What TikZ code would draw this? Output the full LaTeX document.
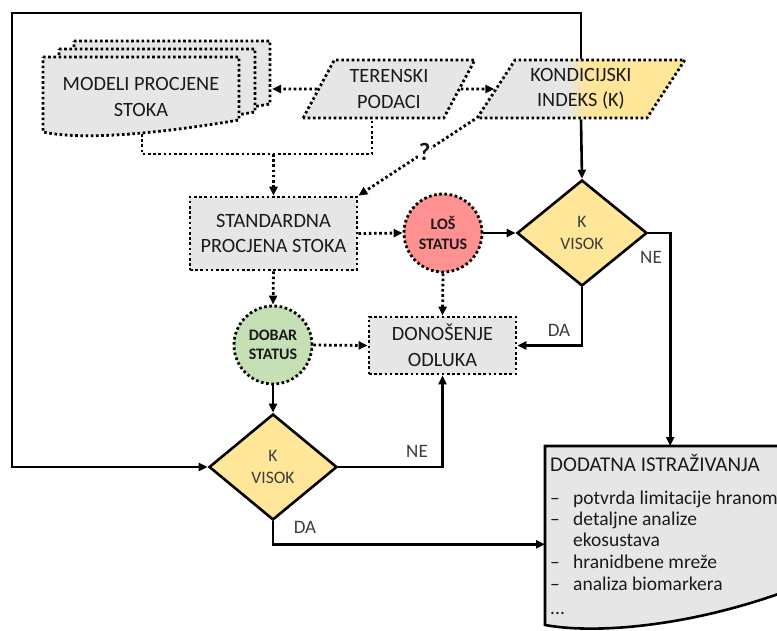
\documentclass[tikz,border=0pt]{standalone}
\usepackage{fontspec}
\setmainfont{Carlito}
\usetikzlibrary{arrows.meta,shapes.geometric,calc}
\definecolor{gfill}{HTML}{E6E6E6}
\definecolor{yfill}{HTML}{FFE699}
\definecolor{rfill}{HTML}{FF9191}
\definecolor{grfill}{HTML}{C5E0B4}
\definecolor{txt}{HTML}{1A1A1A}
\definecolor{dtxt}{HTML}{3C3C3C}
\pgfdeclarehorizontalshading{kshade}{100bp}{color(0bp)=(gfill); color(46.5bp)=(gfill); color(51.5bp)=(yfill); color(100bp)=(yfill)}
\begin{document}
\begin{tikzpicture}[x=1pt,y=-1pt,
  dotpat/.style={line width=2.8pt, dash pattern=on 2.6pt off 2.6pt},
  dotbox/.style={dotpat, draw=black, fill=gfill},
  boxtext/.style={font=\fontsize{20.3}{25.5}\selectfont, text=txt, align=center},
  dtext/.style={font=\fontsize{17.5}{22}\selectfont, text=dtxt, align=center},
  ctext/.style={font=\bfseries\fontsize{16}{19.5}\selectfont, text=txt, align=center},
  lbl/.style={font=\fontsize{19}{22}\selectfont, text=dtxt, inner sep=0pt},
  lst/.style={font=\fontsize{19.5}{22}\selectfont, text=txt, anchor=base west, inner sep=0pt},
  tip/.style={-{Triangle[length=9pt,width=8pt]}},
  solidarrow/.style={line width=2.6pt, tip},
  solidline/.style={line width=2.6pt},
  dotarrow/.style={dotpat, tip},
  dec/.style={diamond, draw=black, line width=2.6pt, fill=yfill, minimum width=130pt, minimum height=106pt, inner sep=0pt, dtext},
  stat/.style={circle, dotpat, draw=black, minimum size=78pt, inner sep=0pt, ctext}
]
\useasboundingbox (0,0) rectangle (777,631);
\clip (0,0) rectangle (777,631);
\fill[white] (0,0) rectangle (777,631);

% multi-document
\foreach \sx/\sy in {31/-16,16/-8,0/0}{
  \filldraw[dotbox, shift={(\sx,\sy)}] (43,57) -- (239,57) -- (239,120) .. controls (150,135) and (80,140) .. (43,132) -- cycle;
}
\node[boxtext, inner sep=0pt] (mod) at (141,97) {MODELI PROCJENE\\STOKA};
\coordinate (modR) at (272,89);
\coordinate (modB) at (142,134);

\node[dotbox, trapezium, trapezium left angle=60, trapezium right angle=120, trapezium stretches=true, minimum width=172pt, minimum height=58pt, inner sep=0pt, boxtext] (ter) at (389,89) {TERENSKI\\PODACI};
\coordinate (terB) at (372,118);

\node[trapezium, trapezium left angle=55, trapezium right angle=125, trapezium stretches=true, minimum width=208pt, minimum height=58pt, inner sep=0pt, draw=black, dotpat, shade, shading=kshade, boxtext] (K) at (581,89) {KONDICIJSKI\\INDEKS (K)};

\node[dotbox, rectangle, minimum width=167pt, minimum height=73pt, inner sep=0pt, boxtext] (std) at (273.5,233.5) {STANDARDNA\\PROCJENA STOKA};
\node[dotbox, rectangle, minimum width=147pt, minimum height=57pt, inner sep=0pt, boxtext] (don) at (442.5,345.5) {DONOŠENJE\\ODLUKA};

\node[stat, fill=rfill] (los) at (443,233) {LOŠ\\STATUS};
\node[stat, fill=grfill] (dob) at (273,345) {DOBAR\\STATUS};

\node[dec] (d1) at (582,233) {K\\VISOK};
\node[dec, minimum width=128pt] (d2) at (273,467) {K\\VISOK};

% document DODATNA
\filldraw[fill=gfill, draw=black, solidline] (545,625) -- (545,446) -- (800,446) -- (800,586) .. controls (700,625) and (600,635) .. (545,625) -- cycle;
\node[minimum width=250pt, minimum height=179pt, inner sep=0pt, anchor=north west] (dod) at (545,446) {};
\node[font=\fontsize{21}{25}\selectfont, text=txt, anchor=base west, inner sep=0pt] (t0) at (550,471) {DODATNA ISTRAŽIVANJA};
\node[lst] (t1) at (550,504) {\makebox[23pt][l]{–}potvrda limitacije hranom};
\node[lst] (t2) at (550,525) {\makebox[23pt][l]{–}detaljne analize};
\node[lst] (t3) at (550,546) {\hspace*{23pt}ekosustava};
\node[lst] (t4) at (550,568) {\makebox[23pt][l]{–}hranidbene mreže};
\node[lst] (t5) at (550,590) {\makebox[23pt][l]{–}analiza biomarkera};
\node[lst] (t6) at (550,614) {...};

% dotted connectors
\draw[dotarrow] (ter.west) -- (modR);
\draw[dotarrow] (ter.east) -- (K.west);
\draw[dotpat] (modB) -- (modB |- 0,154) -- (terB |- 0,154) -- (terB);
\draw[dotarrow] (std.north |- 0,154) -- (std.north);
\draw[dotarrow] (K.bottom left corner) -- node[pos=0.43, fill=white, inner sep=0.5pt, font=\bfseries\fontsize{25}{26}\selectfont, text=txt] (q) {?} (std.north east);
\draw[dotarrow] (std.east) -- (los.west);
\draw[dotarrow] (std.south) -- (dob.north);
\draw[dotarrow] (los.south) -- (don.north);
\draw[dotarrow] (dob.east) -- (don.west);

% solid connectors
\draw[solidarrow] (K.north) -- (K.north |- 0,13) -- (12,13) -- (12,467) -- (d2.west);
\draw[solidarrow] (K.south) -- (d1.north);
\draw[solidarrow] (los.east) -- (d1.west);
\draw[solidarrow] (dob.south) -- (d2.north);
\draw[solidarrow] (d1.east) -- (d1.east -| dod.north) -- (dod.north);
\draw[solidarrow] (d1.south) |- (don.east);
\draw[solidarrow] (d2.east) -| (don.south);
\draw[solidarrow] (d2.south) -- ++(0,23) coordinate (daC) -- (daC -| dod.west);

% labels
\node[lbl] (ne1) at (651,257) {NE};
\node[lbl] (da1) at (559,330) {DA};
\node[lbl] (ne2) at (417,451) {NE};
\node[lbl] (da2) at (305,527) {DA};
\end{tikzpicture}
\end{document}
